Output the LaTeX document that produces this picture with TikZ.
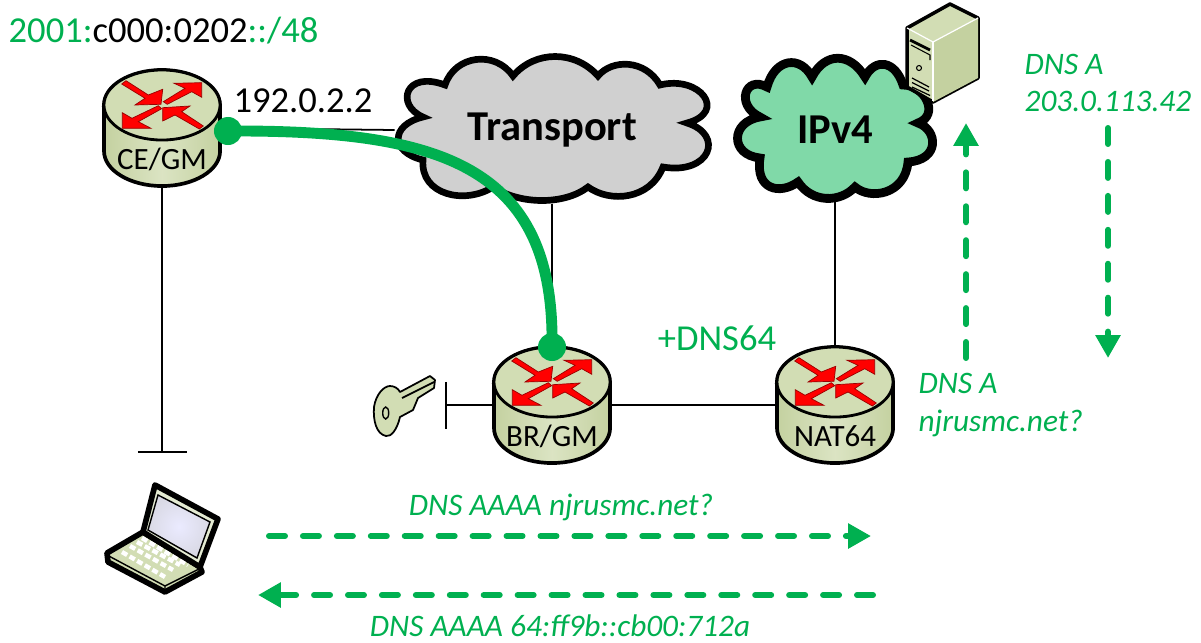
\documentclass[tikz,border=0pt]{standalone}
\usepackage{fontspec}
\setmainfont{Carlito}
\usetikzlibrary{arrows.meta,backgrounds}
\definecolor{mygreen}{HTML}{00B050}
\definecolor{myolive}{HTML}{D2DDB4}
\definecolor{myolivedark}{HTML}{C4D1A0}
\definecolor{mycloud}{HTML}{D0D0D0}
\definecolor{mymint}{HTML}{80D9A8}

\tikzset{
  routerbox/.style={minimum width=1.16cm,minimum height=1.16cm,inner sep=0pt},
  routertext/.style={inner sep=0pt,font=\fontsize{8.8}{10}\selectfont},
  cloudtext/.style={inner sep=0pt,font=\fontsize{12.1}{14}\selectfont\bfseries},
  plaintext/.style={inner sep=0pt,font=\fontsize{10.4}{12}\selectfont},
  flowtext/.style={inner sep=0pt,text=mygreen,align=left,font=\fontsize{8.9}{10.6}\selectfont\itshape},
  link/.style={line width=0.5pt},
  flow/.style={mygreen,line width=1.7pt,line cap=round,dash pattern=on 4.55pt off 5.1pt,-{Triangle[width=6.8pt,length=6.5pt]}},
  tunnel/.style={mygreen,line width=3.1pt},
  tunnelend/.style={circle,fill=mygreen,minimum size=0.28cm,inner sep=0pt},
  redarrow/.style={fill=red,draw=red!60!black,line width=0.2pt}
}

% router drum with the four red arrows, shifted onto its node
\newcommand{\routericon}[1]{
\begin{scope}[shift={(#1)}]
\draw[line width=1.05pt,left color=myolivedark,right color=myolivedark,middle color=myolive!80!white]
  (-58,-23) -- (-58,23) arc[start angle=180,end angle=360,x radius=.58cm,y radius=.35cm] -- (58,-23) arc[start angle=0,end angle=-180,x radius=.58cm,y radius=-.35cm] -- cycle;
\draw[line width=0.8pt,fill=myolive] (0,-23) ellipse [x radius=.58cm,y radius=.35cm];
\begin{scope}[yshift=0.23cm]
\draw[redarrow] (-40.3,-21) -- (-36,-24.3) -- (-13.7,-10) -- (0.7,-15.7) -- (-1,-0.7) -- (-27,0) -- (-17,-6.7) -- cycle;
\draw[redarrow] (1.3,-3.3) -- (5.3,-0.7) -- (29.7,-13.3) -- (39.7,-7.7) -- (39.7,-22.3) -- (12,-21.7) -- (23,-16.7) -- cycle;
\draw[redarrow] (-3.7,0.7) -- (-0.3,3.7) -- (-23.7,16.7) -- (-11,23.3) -- (-39.7,23.3) -- (-39.7,7.7) -- (-30,13.3) -- cycle;
\draw[redarrow] (0.7,2.7) -- (28,1) -- (19.7,6.7) -- (41.3,21) -- (37.3,24) -- (13,10) -- (0.7,16) -- cycle;
\end{scope}
\end{scope}
}

\begin{document}
\begin{tikzpicture}[x=0.01cm,y=-0.01cm]
\useasboundingbox (0,0) rectangle (1201,642);

\node[routerbox] (ce) at (162,128) {};
\node[routerbox] (br) at (552,405) {};
\node[routerbox] (nat) at (835,405) {};
\node[routertext] (celabel) at (162,159) {CE/GM};
\node[routertext] (brlabel) at (552,436) {BR/GM};
\node[routertext] (natlabel) at (835,436) {NAT64};
\node[cloudtext,minimum width=3.13cm,minimum height=1.46cm] (transport) at (552,130) {Transport};
\node[cloudtext,minimum width=1.9cm,minimum height=1.4cm] (ipv4) at (835,130) {IPv4};
\coordinate (laptoptee) at (162,452);
\coordinate (keytee) at (446,405);

\begin{scope}[on background layer]
\routericon{ce}
\routericon{br}
\routericon{nat}

% clouds
\draw[line width=1.9pt,fill=mycloud] (445,85) .. controls (455,55) and (495,50) .. (513,76)
  .. controls (535,50) and (575,50) .. (598,76)
  .. controls (612,59) and (645,59) .. (660,85)
  .. controls (700,75) and (728,112) .. (687,123)
  .. controls (725,135) and (710,175) .. (663,167)
  .. controls (650,200) and (610,203) .. (588,187)
  .. controls (565,205) and (520,205) .. (493,187)
  .. controls (465,205) and (420,195) .. (423,160)
  .. controls (390,152) and (390,125) .. (423,117)
  .. controls (395,105) and (405,70) .. (445,85) -- cycle;
\draw[line width=2.5pt,fill=mymint] (767,87) .. controls (775,58) and (800,55) .. (812,77)
  .. controls (825,52) and (850,52) .. (865,77)
  .. controls (875,58) and (895,60) .. (903,85)
  .. controls (925,85) and (940,115) .. (918,123)
  .. controls (938,130) and (940,160) .. (908,162)
  .. controls (905,195) and (870,200) .. (855,187)
  .. controls (840,203) and (812,203) .. (798,182)
  .. controls (780,195) and (755,190) .. (760,158)
  .. controls (730,155) and (730,122) .. (760,117)
  .. controls (735,105) and (745,75) .. (767,87) -- cycle;

% server
\draw[line width=1pt,line join=round,fill=myolive] (907,28) -- (950,4) -- (978,18) -- (978,78) -- (933,102) -- (907,87) -- cycle;
\fill[myolivedark] (933,42) -- (978,18) -- (978,78) -- (933,102) -- cycle;
\draw[white,line width=0.35pt] (907,28) -- (933,42) -- (978,18);
\draw[white,line width=0.35pt] (933,42) -- (933,101);
\draw[line width=0.8pt] (910,40) -- (930,50);
\draw[line width=0.3pt] (911,45) -- (930,55) -- (930,60);
\draw[line width=0.3pt] (919,68) circle (2.5);
\draw[line width=0.35pt] (912,78) -- (929,87);
\draw[line width=0.35pt] (912,82.5) -- (929,91);
\draw[line width=0.35pt] (912,87) -- (930,95.5);

% key
\draw[line width=0.5pt,line join=round,fill=myolive] (400,392) -- (430,376) -- (435,380) -- (434,388) -- (418,398) -- (413,410) -- (400,417)
  .. controls (397,430) and (391,437) .. (386,436) .. controls (376,434) and (373,420) .. (374,407)
  .. controls (376,394) and (384,386) .. (390,386) .. controls (394,386) and (398,388) .. (400,392) -- cycle;
\draw[line width=0.5pt] (402,398) -- (434,382);
\draw[line width=0.4pt] (385.7,413) ellipse [x radius=.03cm,y radius=.06cm];

% laptop
\draw[line width=1.6pt,line join=round,fill=myolive] (107,553) -- (143,532) -- (200,567) -- (202,572) -- (165,592) -- (108,562) -- cycle;
\draw[line width=0.4pt] (107,555) -- (165,586) -- (165,592);
\draw[line width=0.4pt] (165,586) -- (201,568);
\draw[white,line width=1.25pt,dash pattern=on 1.7pt off 0.8pt] (122,552) -- (165,577);
\draw[white,line width=1.25pt,dash pattern=on 1.7pt off 0.8pt] (130,546) -- (173,570);
\draw[white,line width=1.25pt,dash pattern=on 1.7pt off 0.8pt] (137,542) -- (180,565);
\draw[white,line width=1.25pt,dash pattern=on 1.7pt off 0.8pt] (142,538) -- (188,565);
\draw[line width=1.6pt,line join=round,fill=myolive!60!white] (143,532) -- (155,485) -- (218,519) -- (200,567) -- cycle;
\draw[line width=0.4pt,inner color=blue!8!white,outer color=blue!18!gray!25!white] (148,530) -- (158,495) -- (210,522) -- (197,558) -- cycle;
\end{scope}

\draw[link] (ce.south) -- (laptoptee);
\draw[link] ([xshift=-0.24cm]laptoptee) -- ([xshift=0.25cm]laptoptee);
\draw[link] (ce.east) -- (transport.west);
\draw[link] (transport.south) -- (br.north);
\draw[link] (ipv4.south) -- (nat.north);
\draw[link] (br.east) -- (nat.west);
\draw[link] (br.west) -- (keytee);
\draw[line width=0.6pt] ([yshift=0.23cm]keytee) -- ([yshift=-0.24cm]keytee);

% overlay path and its ends
\node[tunnelend] (tunnelce) at (228,131) {};
\node[tunnelend] (tunnelbr) at (552,347) {};
\draw[tunnel] (tunnelce.center) .. controls (440,130) and (555,165) .. (tunnelbr.center);

% texts
\node[plaintext,anchor=west] (prefix) at (8,31) {\textcolor{mygreen}{2001:}c000:0202\textcolor{mygreen}{::/48}};
\node[plaintext] (ceaddr) at (303,101) {192.0.2.2};
\node[plaintext,text=mygreen] (dnssixfour) at (717,338) {+DNS64};
\node[flowtext,anchor=west] (answera) at (1024,83) {DNS A\\203.0.113.42};
\node[flowtext,anchor=west] (querya) at (918,405) {DNS A\\njrusmc.net?};
\node[flowtext] (queryaaaa) at (561,507) {DNS AAAA njrusmc.net?};
\node[flowtext] (answeraaaa) at (560,626) {DNS AAAA 64:ff9b::cb00:712a};

% dns flows
\coordinate (queryfrom) at (269,536);
\coordinate (queryto) at (871,536);
\coordinate (answerfrom) at (873,595);
\coordinate (answerto) at (258,595);
\coordinate (upfrom) at (966,358);
\coordinate (upto) at (966,123);
\coordinate (downfrom) at (1108,128);
\coordinate (downto) at (1108,358);
\draw[flow] (queryfrom) -- (queryto);
\draw[flow] (answerfrom) -- (answerto);
\draw[flow] (upfrom) -- (upto);
\draw[flow] (downfrom) -- (downto);

\end{tikzpicture}
\end{document}
